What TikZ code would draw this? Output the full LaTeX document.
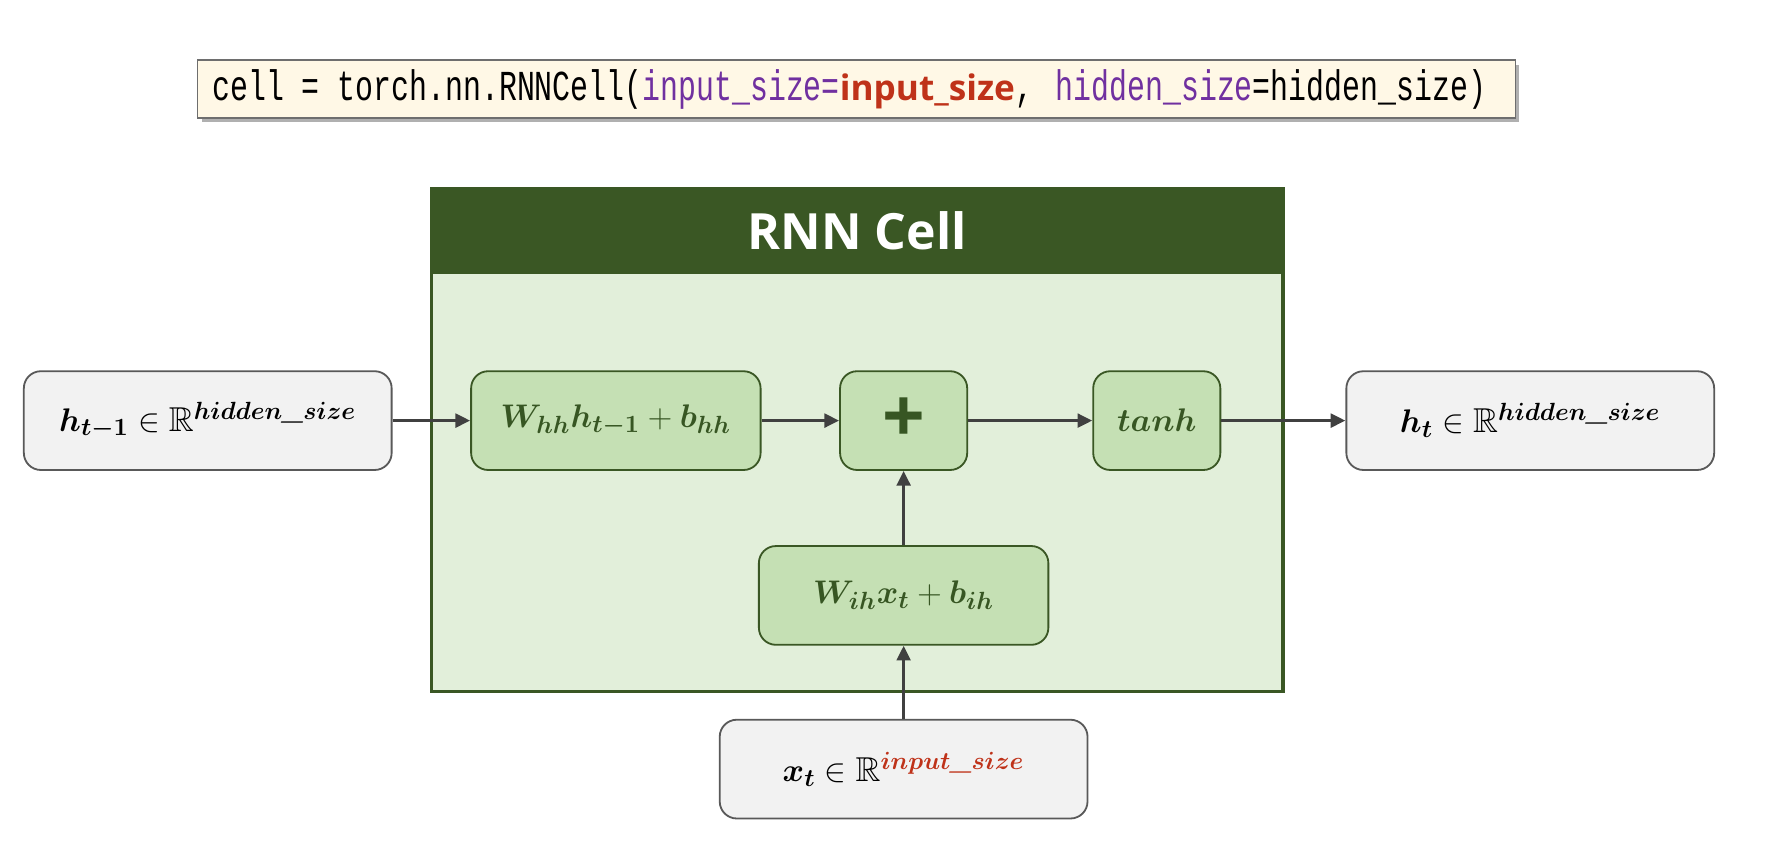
\documentclass[tikz,border=0pt]{standalone}
\usepackage{amsmath,amssymb,bm}
\usepackage{fontspec}
\usetikzlibrary{arrows.meta}
\newfontfamily\codefont[FakeStretch=0.7]{Liberation Mono}
\newfontfamily\headfont{Open Sans}
\newcommand{\csp}{\hphantom{a}}
\definecolor{cellc}{HTML}{3A5724}
\definecolor{cellbody}{HTML}{E2EFDA}
\definecolor{gfill}{HTML}{C5E0B4}
\definecolor{gborder}{HTML}{3A5724}
\definecolor{gtext}{HTML}{375623}
\definecolor{wfill}{HTML}{F2F2F2}
\definecolor{wborder}{HTML}{595959}
\definecolor{arrowc}{HTML}{404040}
\definecolor{codefill}{HTML}{FFF8E6}
\definecolor{codeborder}{HTML}{6E6E6E}
\definecolor{shadowc}{HTML}{B0B0B0}
\definecolor{redc}{HTML}{BF3219}
\definecolor{purplec}{HTML}{7030A0}
\begin{document}
\begin{tikzpicture}[x=0.5pt,y=-0.5pt,
  gbox/.style={draw=gborder, fill=gfill, line width=0.8pt, rounded corners=7.5pt, minimum height=43.5pt, text=gtext, font=\fontsize{15.3}{18}\selectfont},
  wbox/.style={draw=wborder, fill=wfill, line width=0.8pt, rounded corners=7.5pt, minimum height=43.5pt, minimum width=162pt, font=\fontsize{15.2}{18}\selectfont},
  arr/.style={draw=arrowc, line width=1.5pt, -{Triangle[length=6.5pt,width=6pt]}},
  codebox/.style={draw=codeborder, fill=codefill, line width=0.6pt, minimum height=25.5pt, inner xsep=6.5pt, inner ysep=0pt}]
\useasboundingbox (0,0) rectangle (1568,745.3);
% code line
\fill[shadowc] (177.5,57) rectangle (1338.5,107.5);
\node[codebox] (code) at (754.5,78.5) {\makebox[567.5pt][l]{\fontsize{18.8}{22}\codefont cell\csp=\csp torch.nn.RNNCell(\textcolor{purplec}{input\_size=}{\headfont\bfseries\fontsize{15.5}{18}\selectfont\textcolor{redc}{input\_size}},\hspace{10pt}\textcolor{purplec}{hidden\_size}=hidden\_size)}};
% cell
\node[draw=cellc, fill=cellbody, line width=1.5pt, minimum width=375pt, minimum height=221.5pt, inner sep=0pt] (cell) at (755,387.5) {};
\node[draw=cellc, fill=cellc, line width=1.5pt, minimum width=375pt, minimum height=37pt, inner sep=0pt, text=white, font=\headfont\bfseries\fontsize{22}{26}\selectfont] (title) at (755,203) {RNN Cell};
% boxes
\node[wbox] (hp) at (183,370.5) {$\bm{h_{t-1}}\in\mathbb{R}^{\bm{hidden}\textbf{\textit{\_}}\bm{size}}$};
\node[gbox, minimum width=127.5pt] (whh) at (542.5,370.5) {$\bm{W_{hh}h_{t-1}}+\bm{b_{hh}}$};
\node[gbox, minimum width=56pt, font=\headfont\bfseries\fontsize{33}{36}\selectfont] (plus) at (796,370.5) {+};
\node[gbox, minimum width=56pt] (tanh) at (1019,370.5) {$\bm{tanh}$};
\node[wbox] (hn) at (1348,370.5) {$\bm{h_{t}}\in\mathbb{R}^{\bm{hidden}\textbf{\textit{\_}}\bm{size}}$};
\node[gbox, minimum width=127.5pt] (wih) at (796,524.5) {$\bm{W_{ih}x_{t}}+\bm{b_{ih}}$};
\node[wbox] (xt) at (796,677.5) {$\bm{x_{t}}\in\mathbb{R}^{\color{redc}\bm{input}\textbf{\textit{\_}}\bm{size}}$};
% arrows
\draw[arr] (hp) -- (whh);
\draw[arr] (whh) -- (plus);
\draw[arr] (plus) -- (tanh);
\draw[arr] (tanh) -- (hn);
\draw[arr] (wih) -- (plus);
\draw[arr] (xt) -- (wih);
\end{tikzpicture}
\end{document}
